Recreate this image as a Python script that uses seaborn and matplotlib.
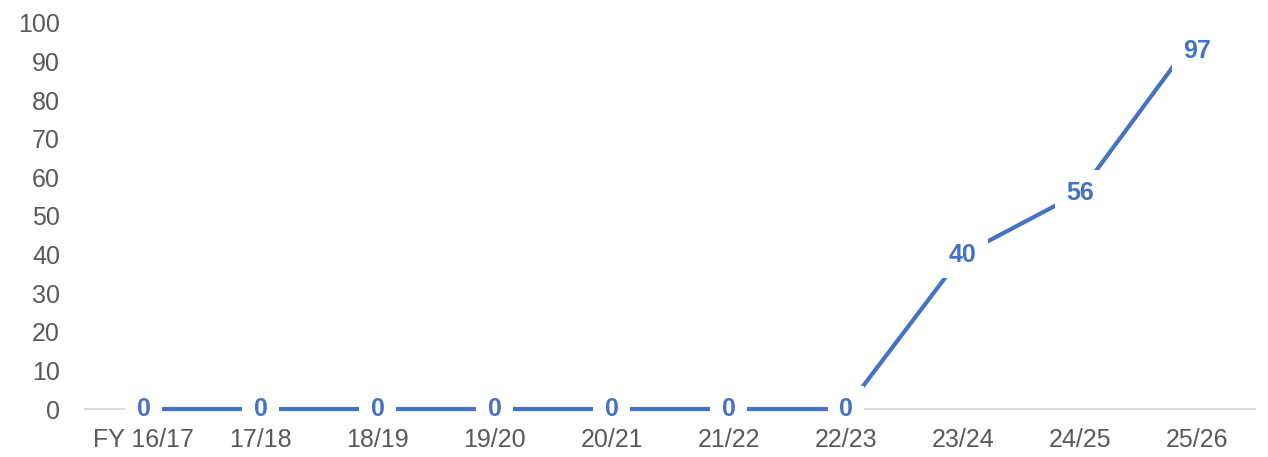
import matplotlib
matplotlib.use("Agg")
import matplotlib.pyplot as plt
import seaborn as sns
import pandas as pd

years = ["FY 16/17", "17/18", "18/19", "19/20", "20/21", "21/22", "22/23", "23/24", "24/25", "25/26"]
values = [0, 0, 0, 0, 0, 0, 0, 40, 56, 97]

blue = "#4472C4"
grey = "#595959"

sns.set_style("white")
plt.rcParams["font.family"] = ["Liberation Sans", "DejaVu Sans"]

df = pd.DataFrame({"year": years, "value": values})

fig = plt.figure(figsize=(12.68, 4.57), dpi=100)
ax = fig.add_axes([0.067, 0.105, 0.923, 0.845])

sns.lineplot(data=df, x="year", y="value", color=blue, linewidth=3, ax=ax,
             sort=False, clip_on=False, zorder=4)

# data labels with white box to break the line
for i, v in enumerate(values):
    dy = -12 if v == max(values) else 0  # top label pushed inside like the original
    ax.annotate(str(v), (i, v), xytext=(0, dy), textcoords="offset points",
                ha="center", va="center", color=blue, fontsize=18,
                fontweight="bold", zorder=5, annotation_clip=False,
                bbox=dict(boxstyle="square,pad=0.45", facecolor="white", edgecolor="none"))

ax.set_xlim(-0.5, len(years) - 0.5)
ax.set_ylim(0, 100)
ax.set_yticks(range(0, 101, 10))
ax.set_xlabel("")
ax.set_ylabel("")
ax.tick_params(axis="both", colors=grey, labelsize=18, length=0)
ax.tick_params(axis="y", pad=18)
ax.tick_params(axis="x", pad=14)
ax.xaxis.set_zorder(6)

for s in ["top", "right", "left"]:
    ax.spines[s].set_visible(False)
ax.spines["bottom"].set_color("#D9D9D9")
ax.spines["bottom"].set_linewidth(1.5)
ax.spines["bottom"].set_zorder(1)

fig.savefig("out.png", dpi=100)
